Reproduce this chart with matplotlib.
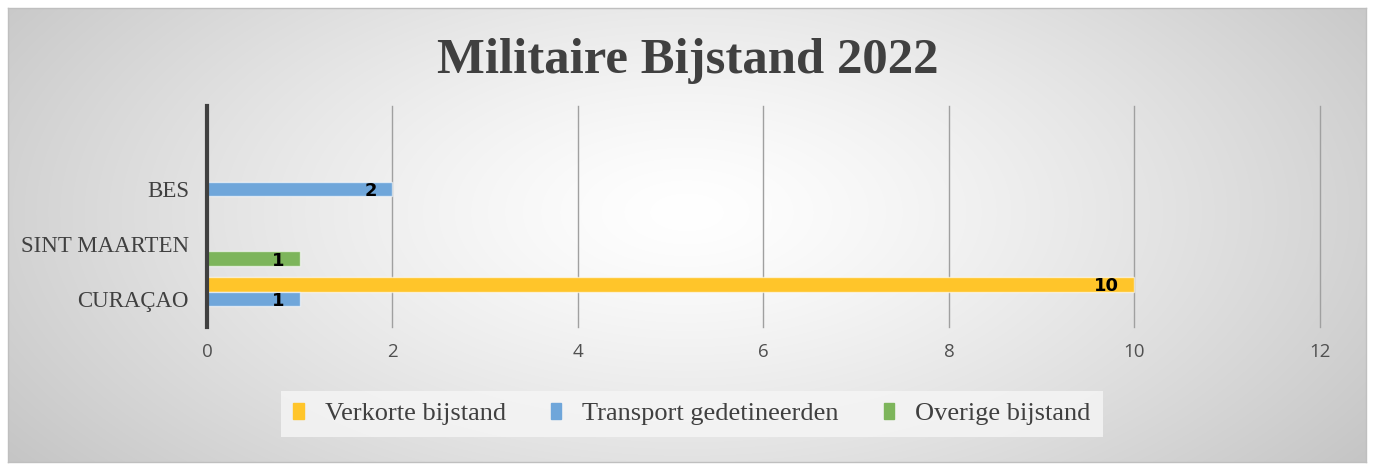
import numpy as np
import matplotlib
matplotlib.use("Agg")
import matplotlib.pyplot as plt
from matplotlib.patches import Rectangle

# ---- data ----
categories = ["CURAÇAO", "SINT MAARTEN", "BES", ""]
series_names = ["Verkorte bijstand", "Transport gedetineerden", "Overige bijstand"]
verkorte = [10, 0, 0, 0]
transport = [1, 0, 2, 0]
overige = [0, 1, 0, 0]
xticks = [0, 2, 4, 6, 8, 10, 12]

colors = ["#FFC52A", "#6FA6DA", "#7DB55B"]
W, H = 1374, 470
fig = plt.figure(figsize=(W / 100, H / 100), dpi=100)
fig.patch.set_facecolor("white")

# background gradient panel
bx0, by0, bx1, by1 = 8, 8, 1366, 462
bg = fig.add_axes([bx0 / W, 1 - by1 / H, (bx1 - bx0) / W, (by1 - by0) / H])
yy, xx = np.mgrid[0:1:300j, 0:1:900j]
d = np.sqrt(((xx - 0.5) / 0.62) ** 2 + ((yy - 0.45) / 0.95) ** 2)
d = np.clip(d, 0, 1)
val = 1.0 - 0.23 * d ** 1.3
img = np.dstack([val, val, val])
bg.imshow(img, aspect="auto", extent=[0, 1, 0, 1], interpolation="bilinear")
bg.set_xticks([]); bg.set_yticks([])
for s in bg.spines.values():
    s.set_color("#bfbfbf"); s.set_linewidth(1)

# main axes
ax = fig.add_axes([207 / W, 1 - 326.5 / H, (1320 - 207) / W, (326.5 - 106.5) / H])
ax.patch.set_alpha(0)
y = np.arange(len(categories))
h = 0.27
offs = [h, 0, -h]
data = [verkorte, transport, overige]
for vals, off, c in zip(data, offs, colors):
    ax.barh(y + off, vals, height=h, color=c, edgecolor=(1, 1, 1, 0.6),
            linewidth=1.0, zorder=3)
    for yi, v in zip(y, vals):
        if v > 0:
            ax.text(v - 0.17, yi + off - 0.03, str(v), ha="right", va="center",
                    fontsize=13, fontweight="bold", family="DejaVu Sans",
                    color="black", zorder=4)

ax.set_xlim(0, 12)
ax.set_ylim(-0.5, len(categories) - 0.5)
ax.set_xticks(xticks)
ax.set_xticklabels([str(t) for t in xticks], family="Open Sans", fontsize=13.5, color="#505050")
ax.set_yticks(y)
ax.set_yticklabels(categories, family="Liberation Serif", fontsize=16.5, color="#404040")
ax.tick_params(axis="both", length=0)
ax.tick_params(axis="x", pad=12)
ax.tick_params(axis="y", pad=13)
ax.grid(axis="x", color="#a0a0a0", linewidth=1.0, zorder=0)
ax.grid(axis="y", visible=False)
for gl in ax.get_xgridlines():
    gl.set_clip_on(False)
for k in ["top", "right", "bottom"]:
    ax.spines[k].set_visible(False)
ax.spines["left"].set_color("#404040")
ax.spines["left"].set_linewidth(3)
ax.spines["left"].set_zorder(5)

# title
fig.text(688 / W, 1 - 61 / H, "Militaire Bijstand 2022", ha="center", va="center",
         family="Liberation Serif", fontweight="bold", fontsize=36.5, color="#404040")

# legend
handles = [Rectangle((0, 0), 1, 1, color=c) for c in colors]
leg = fig.legend(handles, series_names, loc="center", bbox_to_anchor=(692 / W, 1 - 414 / H),
                 ncol=3, frameon=True, prop={"family": "Liberation Serif", "size": 19},
                 handlelength=0.4, handleheight=0.6, handletextpad=0.8, columnspacing=1.7,
                 borderpad=0.45, borderaxespad=0, fancybox=False)
leg.get_frame().set_facecolor("#f6f6f6")
leg.get_frame().set_edgecolor("none")
for t in leg.get_texts():
    t.set_color("#404040")

fig.canvas.draw()
bb = leg.get_frame().get_bbox()
leg.get_frame().set_bounds(bb.x0 - 18, bb.y0, bb.width + 36, bb.height)

fig.savefig("out.png", dpi=100)
